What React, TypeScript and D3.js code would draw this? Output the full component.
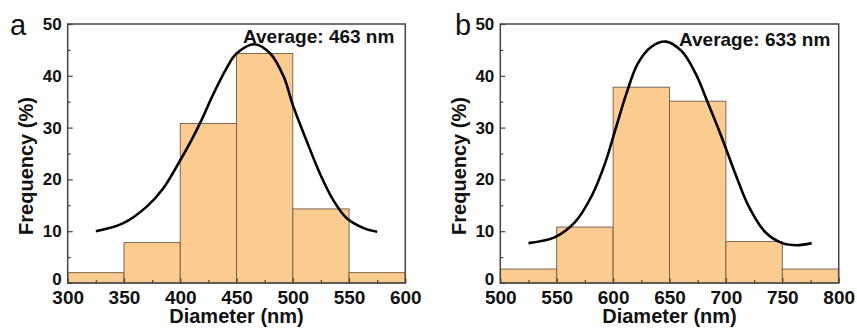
import React, { useRef, useEffect } from "react";
import * as d3 from "d3";

// histogram bin edges and frequencies (%)
const edgesA = [300, 350, 400, 450, 500, 550, 600];
const freqA = [2.0, 7.8, 30.8, 44.3, 14.3, 2.0];
const edgesB = [500, 550, 600, 650, 700, 750, 800];
const freqB = [2.7, 10.8, 37.8, 35.1, 8.0, 2.7];

// fitted curves
const fitAx = [325, 349, 370, 385, 400, 410, 419, 429, 441, 450, 466, 480, 492, 500, 512, 524, 536, 548, 563, 575];
const fitAy = [10.0, 11.5, 14.7, 18.3, 23.7, 27.6, 31.5, 36.3, 41.4, 44.3, 46.1, 44.3, 39.8, 34.4, 27.6, 21.2, 16.0, 12.5, 10.6, 9.9];
const fitBx = [525, 548, 566, 581, 593, 602, 612, 622, 634, 647, 661, 673, 684, 696, 708, 720, 735, 750, 763, 776];
const fitBy = [7.7, 8.8, 11.7, 16.8, 23.2, 29.6, 36.7, 42.4, 45.6, 46.6, 44.7, 40.5, 34.8, 28.3, 21.3, 14.9, 9.8, 7.7, 7.3, 7.7];

const yTicks = [0, 10, 20, 30, 40, 50];
const yMinor = [5, 15, 25, 35, 45];

const FONT = "'Liberation Sans', Arial, sans-serif";

function Panel({ edges, freq, fx, fy, left, right, letter, letterX, avgText, avgX, avgY, yLabelX }) {
  const gRef = useRef(null);

  useEffect(() => {
    const g = d3.select(gRef.current);
    g.selectAll("*").remove();
    const top = 24, bottom = 283;
    const x = d3.scaleLinear().domain([edges[0], edges[edges.length - 1]]).range([left, right]);
    const y = d3.scaleLinear().domain([0, 50]).range([bottom, top]);

    // bars
    g.selectAll(".bar")
      .data(freq)
      .join("rect")
      .attr("class", "bar")
      .attr("x", (d, i) => x(edges[i]))
      .attr("y", (d) => y(d))
      .attr("width", (d, i) => x(edges[i + 1]) - x(edges[i]))
      .attr("height", (d) => y(0) - y(d))
      .attr("fill", "#fbcb90")
      .attr("stroke", "#6e5c48")
      .attr("stroke-width", 0.9);

    // fit curve
    const pts = fx.map((v, i) => [v, fy[i]]);
    const line = d3.line().x((d) => x(d[0])).y((d) => y(d[1])).curve(d3.curveCatmullRom);
    g.append("path")
      .attr("d", line(pts))
      .attr("fill", "none")
      .attr("stroke", "#000")
      .attr("stroke-width", 2.6);

    // frame
    g.append("rect")
      .attr("x", left).attr("y", top)
      .attr("width", right - left).attr("height", bottom - top)
      .attr("fill", "none").attr("stroke", "#444").attr("stroke-width", 1.5);

    // x axis
    const xMinor = edges.slice(0, -1).map((e, i) => (e + edges[i + 1]) / 2);
    const xa = g.append("g").attr("transform", `translate(0,${bottom})`)
      .call(d3.axisBottom(x).tickValues(edges).tickSize(-5).tickPadding(8).tickFormat(d3.format("d")));
    const xm = g.append("g").attr("transform", `translate(0,${bottom})`)
      .call(d3.axisBottom(x).tickValues(xMinor).tickSize(-3).tickFormat(() => ""));

    // y axis
    const ya = g.append("g").attr("transform", `translate(${left},0)`)
      .call(d3.axisLeft(y).tickValues(yTicks).tickSize(-5).tickPadding(6));
    const ym = g.append("g").attr("transform", `translate(${left},0)`)
      .call(d3.axisLeft(y).tickValues(yMinor).tickSize(-3).tickFormat(() => ""));

    [xa, xm, ya, ym].forEach((a) => {
      a.select(".domain").remove();
      a.selectAll("line").attr("stroke", "#444").attr("stroke-width", 1.2);
      a.selectAll("text").attr("font-family", FONT).attr("font-weight", "bold").attr("fill", "#111");
    });
    xa.selectAll("text").attr("font-size", 19);
    ya.selectAll("text").attr("font-size", 17);
    // the reference's "0" sits a little above the baseline
    ya.selectAll(".tick").filter((d) => d === 0).select("text").attr("dy", "0.1em");
  }, []);

  const cx = (left + right) / 2;
  return (
    <g>
      <g ref={gRef} />
      <text x={cx} y={323} textAnchor="middle" fontFamily={FONT} fontWeight="bold" fontSize={20} fill="#111">
        Diameter (nm)
      </text>
      <text transform={`translate(${yLabelX},166) rotate(-90)`} textAnchor="middle" fontFamily={FONT}
        fontWeight="bold" fontSize={20} fill="#111">
        Frequency (%)
      </text>
      <text x={avgX} y={avgY} fontFamily={FONT} fontWeight="bold" fontSize={19} fill="#111">
        {avgText}
      </text>
      <text x={letterX} y={35} fontFamily={FONT} fontSize={29} fill="#111">
        {letter}
      </text>
    </g>
  );
}

export default function App() {
  return (
    <svg width={857} height={328} style={{ position: "absolute", left: 0, top: 0, background: "#fff" }}>
      <rect width={857} height={328} fill="#fff" />
      <Panel edges={edgesA} freq={freqA} fx={fitAx} fy={fitAy} left={67.7} right={405.3}
        letter="a" letterX={10} avgText="Average: 463 nm" avgX={243} avgY={43} yLabelX={33} />
      <Panel edges={edgesB} freq={freqB} fx={fitBx} fy={fitBy} left={500.3} right={838.7}
        letter="b" letterX={455} avgText="Average: 633 nm" avgX={679} avgY={46} yLabelX={466} />
    </svg>
  );
}
